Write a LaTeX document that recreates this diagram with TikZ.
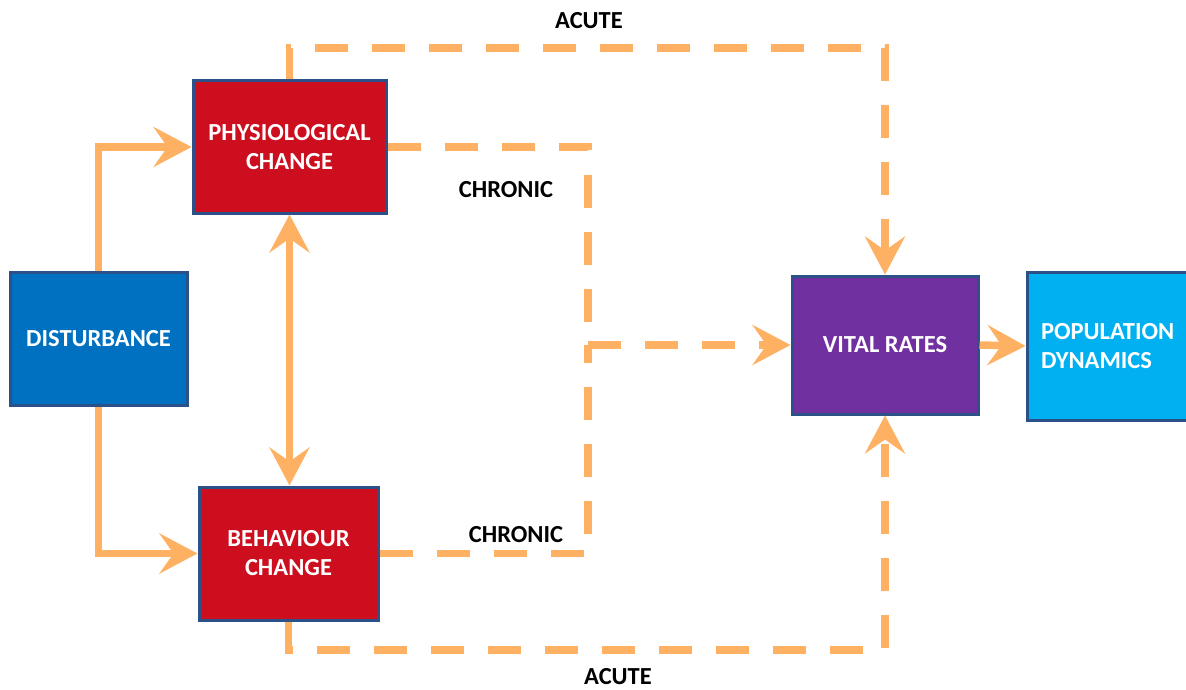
\documentclass[tikz,border=0pt]{standalone}
\usepackage{fontspec}
\setmainfont{Carlito}
\usetikzlibrary{arrows.meta,shadows}
\definecolor{arrowc}{HTML}{FFB163}
\definecolor{boxborder}{HTML}{2B5188}
\definecolor{redc}{HTML}{CD0E1E}
\definecolor{bluec}{HTML}{0070C0}
\definecolor{purplec}{HTML}{7030A0}
\definecolor{cyanc}{HTML}{00B0F0}
\begin{document}
\begin{tikzpicture}[x=1pt,y=-1pt,
  box/.style={draw=boxborder, line width=3pt, text=white, align=center, inner sep=0pt,
    font=\bfseries\fontsize{24.5}{29}\selectfont,
    drop shadow={opacity=0.25, shadow xshift=2pt, shadow yshift=-2pt}},
  lbl/.style={text=black, font=\bfseries\fontsize{24.5}{29}\selectfont, inner sep=0pt},
  bigtip/.tip={Stealth[length=38pt, width=40pt, inset=14pt]},
  solidline/.style={draw=arrowc, line width=7.5pt},
  dashline/.style={draw=arrowc, line width=7.5pt, dash pattern=on 33pt off 24pt},
]
\useasboundingbox (0,0) rectangle (1186,690);

\node[box, fill=bluec, minimum width=177pt, minimum height=133pt] (dist) at (98.5,338.5) {DISTURBANCE};
\node[box, fill=redc, minimum width=193pt, minimum height=132pt] (phys) at (289.5,147) {PHYSIOLOGICAL\\CHANGE};
\node[box, fill=redc, minimum width=179pt, minimum height=133pt] (beh) at (288.5,553.5) {BEHAVIOUR\\CHANGE};
\node[box, fill=purplec, minimum width=186pt, minimum height=138pt] (vital) at (885,345) {VITAL RATES};
\node[box, fill=cyanc, minimum width=165pt, minimum height=148pt, text width=137pt, align=left] (pop) at (1109.5,346) {POPULATION\\DYNAMICS};

% solid arrows
\draw[solidline, -{bigtip}] (dist.north) |- (phys.west);
\draw[solidline, -{bigtip}] (dist.south) |- (beh.west);
\draw[solidline, {bigtip}-{bigtip}] (phys.south) -- (phys.south |- beh.north);
\draw[solidline, -{bigtip}] (vital.east) -- (pop.west);

% dashed paths
\coordinate (top) at (289.5,48);
\coordinate (bot) at (288.5,650);
\coordinate (j) at (588,345);
\draw[dashline, -{bigtip}] (phys.north) -- (top) -| (vital.north);
\draw[dashline, -{bigtip}] (beh.south) -- (bot) -| (vital.south);
\draw[dashline] (phys.east) -| (j);
\draw[dashline] (beh.east) -| (j);
\draw[dashline, -{bigtip}] (j) -- (vital.west);

% labels
\node[lbl] (acute1) at (589,21) {ACUTE};
\node[lbl] (chronic1) at (506,190) {CHRONIC};
\node[lbl] (chronic2) at (516,535) {CHRONIC};
\node[lbl] (acute2) at (618,677) {ACUTE};
\end{tikzpicture}
\end{document}
